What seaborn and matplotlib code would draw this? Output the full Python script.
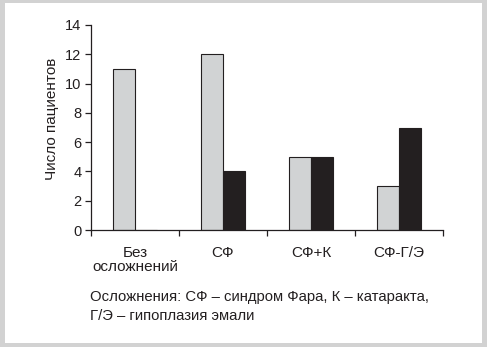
import matplotlib
matplotlib.use("Agg")
import matplotlib.pyplot as plt
from matplotlib.patches import Rectangle
import seaborn as sns
import pandas as pd

categories = ["Без\nосложнений", "СФ", "СФ+К", "СФ-Г/Э"]
group_a = [11, 12, 5, 3]
group_b = [0, 4, 5, 7]
y_ticks = [0, 2, 4, 6, 8, 10, 12, 14]

df = pd.DataFrame({
    "cat": categories * 2,
    "val": group_a + group_b,
    "grp": ["a"] * 4 + ["b"] * 4,
})

sns.set_style("white")
plt.rcParams["font.family"] = ["Liberation Sans", "DejaVu Sans"]
ink = "#231f20"

W, H = 487, 347
fig = plt.figure(figsize=(W / 100, H / 100), dpi=100, facecolor="#d2d2d2")
# white panel inside the grey frame
fig.patches.append(Rectangle((5 / W, 1 - 343 / H), (482 - 5) / W, (343 - 3) / H,
                             transform=fig.transFigure, facecolor="white",
                             edgecolor="none", zorder=-10))

ax = fig.add_axes([91 / W, 1 - 230 / H, (443 - 91) / W, (230 - 25) / H])
ax.set_facecolor("none")

sns.barplot(data=df, x="cat", y="val", hue="grp", order=categories,
            hue_order=["a", "b"], palette=["#d1d3d4", ink], width=0.5,
            edgecolor=ink, linewidth=0.8, saturation=1, ax=ax, legend=False)

ax.set_xlim(-0.5, 3.5)
ax.set_ylim(0, 14)
ax.set_yticks(y_ticks)
ax.set_xticks(range(len(categories)))
ax.set_xticklabels(categories, fontsize=11, color=ink, linespacing=1.0, va="top")
ax.set_xticks([i - 0.5 for i in range(len(categories) + 1)], minor=True)
ax.tick_params(axis="x", which="major", length=0, pad=11.5)
ax.tick_params(axis="x", which="minor", length=4.5, width=0.9, color=ink, direction="out", bottom=True)
ax.tick_params(axis="y", length=4.5, width=0.9, color=ink, direction="out", left=True,
               labelsize=10.5, labelcolor=ink, pad=2.5)

for s in ["top", "right"]:
    ax.spines[s].set_visible(False)
for s in ["left", "bottom"]:
    ax.spines[s].set_color(ink)
    ax.spines[s].set_linewidth(0.9)

ax.set_xlabel("")
ax.set_ylabel("Число пациентов", fontsize=11, color=ink)
ax.yaxis.set_label_coords((52 - 91) / (443 - 91), (230 - 119) / (230 - 25))
ax.yaxis.label.set_verticalalignment("center")

fig.text(90 / W, 1 - 290 / H,
         "Осложнения: СФ – синдром Фара, К – катаракта,\nГ/Э – гипоплазия эмали",
         fontsize=10.7, color=ink, va="top", ha="left", linespacing=1.45)

fig.savefig("out.png", dpi=100, facecolor=fig.get_facecolor())
